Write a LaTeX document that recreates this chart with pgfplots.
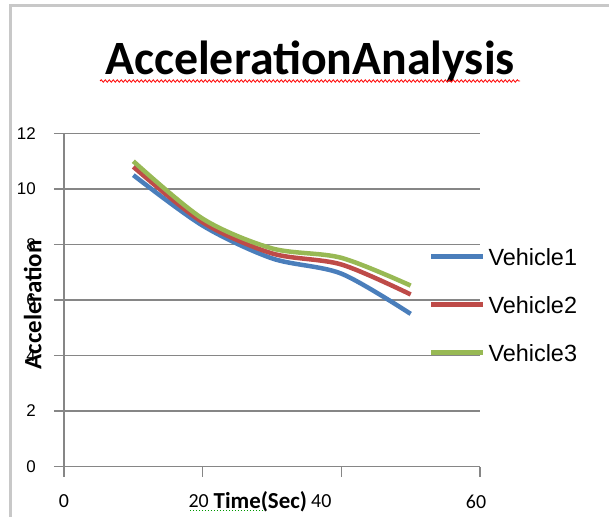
\documentclass[border=0pt]{standalone}
\usepackage{pgfplots}
\pgfplotsset{compat=1.18}
\usepackage{fontspec}
\setmainfont{Carlito}
\newfontfamily\arial{Liberation Sans}
\usetikzlibrary{decorations.pathmorphing}
\definecolor{vone}{HTML}{4A7EBB}
\definecolor{vtwo}{HTML}{BE4B48}
\definecolor{vthree}{HTML}{98B954}
\definecolor{gridc}{HTML}{868686}
\definecolor{framec}{HTML}{C8C8C8}
\begin{document}
\begin{tikzpicture}
\useasboundingbox (0,0) rectangle (609bp,517bp);
\fill[white] (0,0) rectangle (609bp,517bp);
\draw[framec, line width=3bp] (10bp,0) -- (10bp,511bp) -- (609bp,511bp);
\node[font=\bfseries\fontsize{48}{51}\selectfont, anchor=base] at (310bp,442bp) {AccelerationAnalysis};
\draw[red, line width=0.8bp, decorate, decoration={snake, segment length=4bp, amplitude=1.2bp}] (100bp,436bp) -- (520bp,436bp);
\draw[green!60!black, line width=1bp, dotted] (190bp,6.5bp) -- (265bp,6.5bp);
\begin{axis}[
  at={(64bp,50.5bp)}, anchor=south west,
  scale only axis, width=416bp, height=333bp,
  xmin=0, xmax=60, ymin=0, ymax=12,
  xtick={0,20,40,60}, ytick={0,2,4,6,8,10,12},
  xticklabels={{0},{\makebox[0pt]{20\hspace{8bp}}},{\makebox[0pt]{40\hspace{40bp}}},{\makebox[0pt]{60\hspace{8bp}}}},
  axis x line*=bottom, axis y line*=left,
  axis line style={draw=gridc, line width=1.5bp, -},
  ymajorgrids, grid style={draw=gridc, line width=1.5bp},
  tick align=outside, major tick length=10bp,
  tick style={draw=gridc, line width=1.5bp},
  /pgf/number format/assume math mode=true,
  yticklabel style={font=\arial\fontsize{17}{20}\selectfont, anchor=east, inner sep=0pt, xshift=-18bp},
  xticklabel style={font=\fontsize{20}{22}\selectfont, anchor=north, inner sep=0pt, yshift=-18bp},
  ylabel={Acceleration},
  ylabel style={at={(axis description cs:-0.075,0.485)}, anchor=center, font=\bfseries\fontsize{25}{28}\selectfont},
  xlabel={Time(Sec)},
  xlabel style={at={(axis description cs:0.472,-0.1275)}, anchor=base, font=\bfseries\fontsize{23}{26}\selectfont},
  legend entries={Vehicle1,Vehicle2,Vehicle3},
  legend style={at={(axis description cs:0.877,0.653)}, anchor=north west, draw=none, fill=none, inner sep=0pt,
    font=\arial\fontsize{23.5}{26}\selectfont, row sep=27bp,
    nodes={inner sep=0pt, text height=16bp, text depth=5bp},
    /tikz/every odd column/.append style={column sep=3bp}},
  legend cell align=left,
  legend image code/.code={\draw[#1] (0bp,3bp) -- (52bp,3bp);},
]
\addplot[vone, line width=4.5bp, smooth, tension=0.5] coordinates {(10,10.5) (20,8.68) (30,7.5) (40,6.95) (50,5.5)};
\addplot[vtwo, line width=4.5bp, smooth, tension=0.5] coordinates {(10,10.8) (20,8.8) (30,7.68) (40,7.28) (50,6.2)};
\addplot[vthree, line width=4.5bp, smooth, tension=0.5] coordinates {(10,11.0) (20,8.93) (30,7.86) (40,7.52) (50,6.52)};
\end{axis}
\end{tikzpicture}
\end{document}
